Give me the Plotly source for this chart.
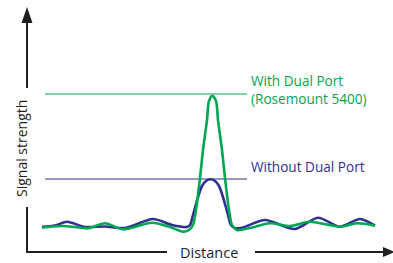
import plotly.graph_objects as go

# Distance / signal values (arbitrary units)
green_x = [15, 25, 36, 48, 61, 78, 96, 125, 143, 156, 162, 166, 169, 173, 176, 180, 182, 185.3,
           189, 191, 195, 198, 202, 205, 210, 223, 243, 263, 283, 313, 330, 348]
green_y = [24.3, 25.5, 26, 25, 23.7, 28.7, 22.7, 29.3, 25, 20.3, 22, 27, 42, 74, 102, 132, 151, 156.3,
           151, 132, 102, 74, 42, 27, 22, 24, 28.7, 26, 30.3, 25.3, 28.7, 26.3]

blue_x = [15, 28, 40, 58, 78, 98, 126, 145, 160, 163, 166, 169, 172, 175, 179, 183.5,
          188, 192, 195, 198, 201, 204, 208, 215, 238, 268, 291, 313, 333, 348]
blue_y = [25.3, 26.5, 30.3, 25, 25.5, 24, 33, 27, 25, 27, 37, 48, 58, 66, 71, 72.7,
          71, 66, 58, 48, 37, 27, 24, 24.3, 32, 23, 34.3, 25.3, 33, 26.3]

level_x = [18, 220]
with_dual_level = [158, 158]
without_dual_level = [73, 73]

GREEN = "#00a651"
BLUE = "#2e3192"
INK = "#231f20"
FONT = "Open Sans"

fig = go.Figure()
fig.add_trace(go.Scatter(x=level_x, y=with_dual_level, mode="lines",
                         line=dict(color=GREEN, width=1.2), hoverinfo="skip"))
fig.add_trace(go.Scatter(x=level_x, y=without_dual_level, mode="lines",
                         line=dict(color=BLUE, width=1.2), hoverinfo="skip"))
fig.add_trace(go.Scatter(x=blue_x, y=blue_y, mode="lines",
                         line=dict(color=BLUE, width=2.6, shape="spline", smoothing=0.8)))
fig.add_trace(go.Scatter(x=green_x, y=green_y, mode="lines",
                         line=dict(color=GREEN, width=2.6, shape="spline", smoothing=0.8)))

shapes = [
    # vertical axis (with gap for the label)
    dict(type="line", x0=0, x1=0, y0=0, y1=45, line=dict(color=INK, width=2)),
    dict(type="line", x0=0, x1=0, y0=164, y1=232, line=dict(color=INK, width=2)),
    dict(type="path", path="M -5.5 229 L 5.5 229 L 0 245 Z", fillcolor=INK, line=dict(width=0)),
    # horizontal axis (with gap for the label)
    dict(type="line", x0=-1, x1=140, y0=0, y1=0, line=dict(color=INK, width=2)),
    dict(type="line", x0=228, x1=358, y0=0, y1=0, line=dict(color=INK, width=2)),
    dict(type="path", path="M 356 5 L 356 -5 L 368 0 Z", fillcolor=INK, line=dict(width=0)),
]
for s in shapes:
    s["xref"] = "x"
    s["yref"] = "y"

annotations = [
    dict(x=-5.5, y=103.5, text="Signal strength", textangle=-90, showarrow=False,
         font=dict(family=FONT, size=14, color=INK), xanchor="center", yanchor="middle"),
    dict(x=182, y=0, text="Distance", showarrow=False,
         font=dict(family=FONT, size=14.5, color=INK), xanchor="center", yanchor="middle"),
    dict(x=222, y=163, text="With Dual Port<br>(Rosemount 5400)", showarrow=False, align="left",
         font=dict(family=FONT, size=13.6, color=GREEN), xanchor="left", yanchor="middle"),
    dict(x=222, y=86, text="Without Dual Port", showarrow=False, align="left",
         font=dict(family=FONT, size=13.6, color=BLUE), xanchor="left", yanchor="middle"),
]

fig.update_layout(
    width=393, height=263,
    margin=dict(l=0, r=0, t=0, b=0),
    paper_bgcolor="white", plot_bgcolor="white",
    showlegend=False,
    xaxis=dict(range=[-27, 366], visible=False, fixedrange=True),
    yaxis=dict(range=[-11, 252], visible=False, fixedrange=True),
    shapes=shapes, annotations=annotations,
)

fig.write_html("out.html", config={"displayModeBar": False},
               post_script="document.body.style.margin='0';document.body.style.overflow='hidden';")
